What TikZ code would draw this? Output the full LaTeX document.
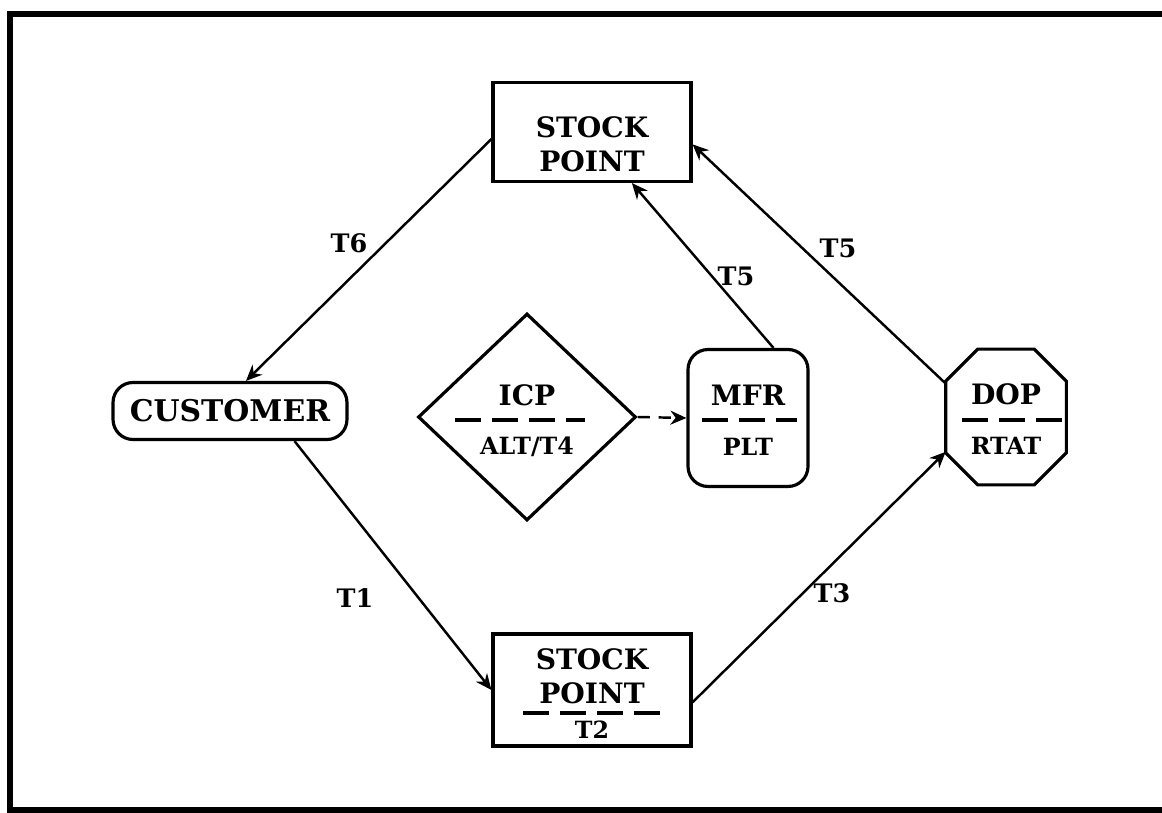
\documentclass[tikz,border=0pt]{standalone}
\usepackage{fontspec}
\setmainfont{DejaVu Serif}
\usepackage{tikz}
\usetikzlibrary{arrows.meta,positioning,calc,shapes.geometric}

\begin{document}
\begin{tikzpicture}[
  x=0.02cm,y=-0.02cm,
  every node/.style={align=center},
  box/.style={draw,line width=1.8pt,minimum width=3.96cm,minimum height=1.98cm,inner sep=0pt},
  rbox/.style={draw,line width=1.8pt,rounded corners=4mm,inner sep=0pt},
  dia/.style={draw,diamond,line width=1.8pt,minimum width=4.36cm,minimum height=4.14cm,inner sep=0pt},
  big/.style={font=\fontsize{16}{19.5}\selectfont\bfseries,inner sep=0pt},
  sub/.style={font=\fontsize{13.5}{16}\selectfont\bfseries,inner sep=0pt},
  tlab/.style={font=\fontsize{14.5}{17}\selectfont\bfseries,inner sep=0pt},
  sepline/.style={line width=1.8pt,dash pattern=on 15pt off 6pt},
  arr/.style={-{Stealth[length=3.2mm,width=2.8mm]},line width=1.4pt}
]
\useasboundingbox (0,0) rectangle (1162,813);
\draw[line width=3.4pt] (1180,14) -- (10,14) -- (10,810) -- (1180,810);

% shapes
\node[box] (spTop) at (592,132) {};
\node[box,minimum height=2.24cm] (spBot) at (592,690) {};
\node[rbox,minimum width=4.68cm,minimum height=1.14cm] (customer) at (230,411) {};
\node[dia] (icp) at (527,417) {};
\node[rbox,minimum width=2.4cm,minimum height=2.74cm] (mfr) at (748,418) {};
\node[minimum width=2.4cm,minimum height=2.7cm,inner sep=0pt] (dop) at (1006,417) {};
\draw[line width=1.8pt] ($(dop.north west)+(32,0)$) -- ($(dop.north east)+(-32,0)$)
  -- ($(dop.north east)+(0,32)$) -- ($(dop.south east)+(0,-32)$)
  -- ($(dop.south east)+(-32,0)$) -- ($(dop.south west)+(32,0)$)
  -- ($(dop.south west)+(0,-32)$) -- ($(dop.north west)+(0,32)$) -- cycle;

% texts
\node[big] (spTopTxt) at ($(spTop)+(0,12)$) {STOCK\\POINT};
\node[big] (spBotTxt) at ($(spBot)+(0,-14)$) {STOCK\\POINT};
\node[sub] (spBotT) at ($(spBot)+(0,40)$) {T2};
\node[big,font=\fontsize{17}{20}\selectfont\bfseries] (custTxt) at (customer) {CUSTOMER};
\node[big] (icpTop) at ($(icp)+(0,-22)$) {ICP};
\node[sub] (icpBot) at ($(icp)+(0,30)$) {ALT/T4};
\node[big] (mfrTop) at ($(mfr)+(0,-23)$) {MFR};
\node[sub] (mfrBot) at ($(mfr)+(0,29)$) {PLT};
\node[big] (dopTop) at ($(dop)+(0,-23)$) {DOP};
\node[sub] (dopBot) at ($(dop)+(0,29)$) {RTAT};

% dashed separators
\draw[sepline] ($(spBot)+(-69,23)$) -- ($(spBot)+(73,23)$);
\draw[sepline] ($(icp)+(-72,3)$) -- ($(icp)+(58,3)$);
\draw[sepline] ($(mfr)+(-46,2)$) -- ($(mfr)+(49,2)$);
\draw[sepline] ($(dop)+(-44,3)$) -- ($(dop)+(56,3)$);

% connectors
\draw[arr] (spTop.184) -- (customer.62);
\draw[arr] (customer.-25) -- (spBot.west);
\draw[arr] (spBot.-7) -- (dop.210);
\draw[arr] (dop.151) -- (spTop.-7);
\draw[arr] (mfr.70) -- (spTop.-52);
\draw[arr,dash pattern=on 7pt off 5pt] (icp.east) -- (mfr.west);

% transit labels
\node[tlab] (lblT6) at (349,243) {T6};
\node[tlab] (lblT1) at (355,598) {T1};
\node[tlab] (lblT3) at (832,593) {T3};
\node[tlab] (lblT5a) at (736,276) {T5};
\node[tlab] (lblT5b) at (838,248) {T5};
\end{tikzpicture}
\end{document}
